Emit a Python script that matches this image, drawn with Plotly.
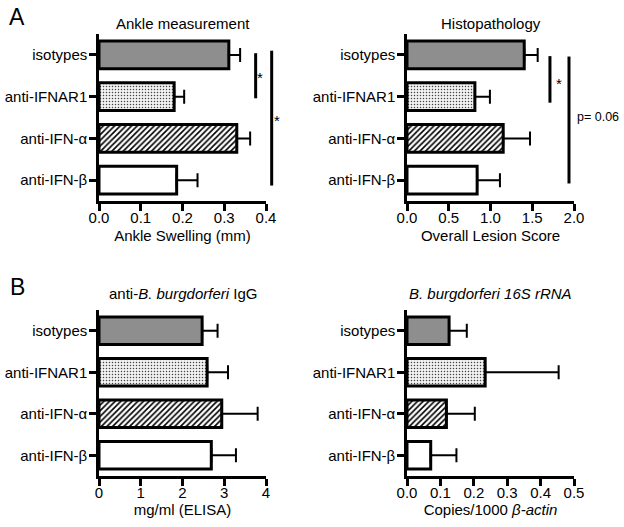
import plotly.graph_objects as go

categories = ["isotypes", "anti-IFNAR1", "anti-IFN-α", "anti-IFN-β"]

ankle_vals = [0.311, 0.180, 0.330, 0.186]
ankle_err = [0.027, 0.024, 0.032, 0.050]

histo_vals = [1.404, 0.813, 1.152, 0.840]
histo_err = [0.161, 0.180, 0.321, 0.273]

igg_vals = [2.47, 2.59, 2.94, 2.69]
igg_err = [0.37, 0.50, 0.86, 0.59]

rrna_vals = [0.126, 0.234, 0.118, 0.071]
rrna_err = [0.053, 0.220, 0.085, 0.077]

FONT = "Liberation Sans, Arial, sans-serif"

bar_colors = ["#8e8e8e", "#f2f2f2", "#ffffff", "#ffffff"]
bar_shapes = ["", ".", "/", ""]
bar_fg = ["#000000", "#444444", "#000000", "#000000"]
bar_size = [8, 3, 4, 8]
bar_sol = [0.2, 0.2, 0.4, 0.2]

panels = [
    (ankle_vals, ankle_err, "x", "y"),
    (histo_vals, histo_err, "x2", "y2"),
    (igg_vals, igg_err, "x3", "y3"),
    (rrna_vals, rrna_err, "x4", "y4"),
]

fig = go.Figure()
for vals, errs, xa, ya in panels:
    for i, cat in enumerate(categories):
        pattern = dict(shape=bar_shapes[i], fgcolor=bar_fg[i], size=bar_size[i],
                       solidity=bar_sol[i], bgcolor=bar_colors[i], fillmode="replace")
        fig.add_trace(go.Bar(
            x=[vals[i]], y=[cat], orientation="h",
            xaxis=xa, yaxis=ya, width=0.66,
            marker=dict(color=bar_colors[i], line=dict(color="black", width=3),
                        pattern=pattern),
            error_x=dict(type="data", array=[errs[i]], arrayminus=[0], symmetric=False,
                         color="black", thickness=2, width=7),
            showlegend=False,
        ))

W, H = 624, 527
def fx(px):
    return px / W
def fy(px):
    return 1 - px / H

xdom = [[fx(99), fx(266)], [fx(407), fx(574)]]
ydomA = [fy(201), fy(34)]
ydomB = [fy(476), fy(310)]

axis_common = dict(showline=True, linecolor="black", linewidth=2.5, ticks="outside",
                   tickwidth=2.5, ticklen=7, tickcolor="black", showgrid=False,
                   zeroline=False, tickfont=dict(family=FONT, size=15, color="black"),
                   fixedrange=True, automargin=False)

def xaxis(dom, anchor, rng, dtick, fmt, title, standoff=6):
    d = dict(axis_common)
    d.update(domain=dom, anchor=anchor, range=rng, dtick=dtick, tick0=0, tickformat=fmt,
             ticklabelstandoff=-6,
             title=dict(text=title, font=dict(family=FONT, size=15, color="black"),
                        standoff=standoff))
    return d

def yaxis(dom, anchor):
    d = dict(axis_common)
    d.update(domain=dom, anchor=anchor, type="category", categoryorder="array",
             categoryarray=categories, range=[3.5, -0.5], ticklabelstandoff=-1)
    return d

fig.update_layout(
    width=W, height=H, margin=dict(l=0, r=0, t=0, b=0, autoexpand=False),
    plot_bgcolor="white", paper_bgcolor="white",
    font=dict(family=FONT, size=15, color="black"),
    showlegend=False, barmode="overlay",
    xaxis=xaxis(xdom[0], "y", [0, 0.4], 0.1, ".1f", "Ankle Swelling (mm)"),
    yaxis=yaxis(ydomA, "x"),
    xaxis2=xaxis(xdom[1], "y2", [0, 2.0], 0.5, ".1f", "Overall Lesion Score"),
    yaxis2=yaxis(ydomA, "x2"),
    xaxis3=xaxis(xdom[0], "y3", [0, 4], 1, "d", "mg/ml (ELISA)", 4),
    yaxis3=yaxis(ydomB, "x3"),
    xaxis4=xaxis(xdom[1], "y4", [0, 0.5], 0.1, ".1f", "Copies/1000 <i>β-actin</i>", 2),
    yaxis4=yaxis(ydomB, "x4"),
)

# significance brackets
brackets = [
    ("x domain", "y", 0.938, -0.04, 1.04),
    ("x domain", "y", 1.034, -0.10, 3.13),
    ("x2 domain", "y2", 0.856, 0.03, 1.145),
    ("x2 domain", "y2", 0.970, 0.04, 3.08),
]
for xr, yr, xv, y0, y1 in brackets:
    fig.add_shape(type="line", xref=xr, yref=yr, x0=xv, x1=xv, y0=y0, y1=y1,
                  line=dict(color="black", width=3))

sig_labels = [
    ("x domain", "y", 0.966, 0.55, "*", "center", 15),
    ("x domain", "y", 1.066, 1.57, "*", "center", 15),
    ("x2 domain", "y2", 0.908, 0.68, "*", "center", 15),
    ("x2 domain", "y2", 1.003, 1.48, "p= 0.06", "left", 12.5),
]
for xr, yr, xv, yv, txt, anc, fs in sig_labels:
    fig.add_annotation(xref=xr, yref=yr, x=xv, y=yv, text=txt, showarrow=False,
                       xanchor=anc, yanchor="middle",
                       font=dict(family=FONT, size=fs, color="black"))

titles = [
    (182.5, 23, "Ankle measurement"),
    (490.5, 23, "Histopathology"),
    (182.5, 293, "anti-<i>B. burgdorferi</i> IgG"),
    (490.5, 293, "<i>B. burgdorferi 16S rRNA</i>"),
]
for px, py, txt in titles:
    fig.add_annotation(xref="paper", yref="paper", x=fx(px), y=fy(py), text=txt,
                       showarrow=False, xanchor="center", yanchor="middle",
                       font=dict(family=FONT, size=15, color="black"))

for px, py, txt in [(7, 17, "A"), (8, 287, "B")]:
    fig.add_annotation(xref="paper", yref="paper", x=fx(px), y=fy(py), text=txt,
                       showarrow=False, xanchor="left", yanchor="middle",
                       font=dict(family=FONT, size=23, color="black"))

fig.write_html("out.html", config={"displayModeBar": False},
               post_script="document.body.style.margin='0';")
